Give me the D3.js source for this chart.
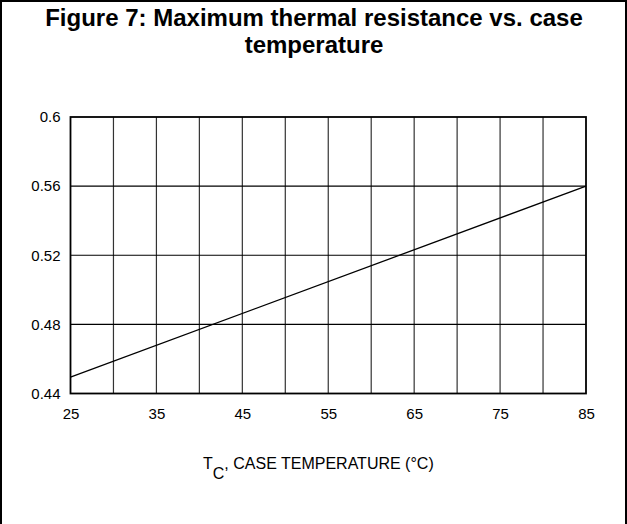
<!DOCTYPE html>
<html>
<head>
<meta charset="utf-8">
<script src="https://cdn.jsdelivr.net/npm/d3@7"></script>
<style>
  body { margin: 0; background: #fff; }
  text { font-family: "Liberation Sans", Arial, sans-serif; fill: #000; }
</style>
</head>
<body>
<script>
// data
const caseTemp = [25, 85];
const thermalRes = [0.4495, 0.56];
const xTicks = [25, 35, 45, 55, 65, 75, 85];
const xGrid = [30, 35, 40, 45, 50, 55, 60, 65, 70, 75, 80];
const yTicks = [0.44, 0.48, 0.52, 0.56, 0.6];
const titleLines = ['Figure 7: Maximum thermal resistance vs. case', 'temperature'];

const w = 627,
      h = 524,
      plotL = 70.5,
      plotR = 586,
      plotT = 117,
      plotB = 393.5;

const svg = d3.select('body')
            .append('svg')
            .attr('width', w)
            .attr('height', h);

// outer frame (bottom edge falls outside the picture)
svg.append('path')
    .attr('d', 'M1,' + h + 'V1H626V' + h)
    .attr('fill', 'none')
    .attr('stroke', '#000')
    .attr('stroke-width', 2);

svg.selectAll('.title')
    .data(titleLines)
    .enter()
    .append('text')
    .attr('class', 'title')
    .attr('x', 314)
    .attr('y', (d, i) => 26 + i * 27)
    .attr('text-anchor', 'middle')
    .style('font-size', '24px')
    .style('font-weight', 'bold')
    .text(d => d);

const x = d3.scaleLinear()
            .domain([25, 85])
            .range([plotL, plotR]);

const y = d3.scaleLinear()
            .domain([0.44, 0.6])
            .range([plotB, plotT]);

// grid
svg.selectAll('.vgrid')
    .data(xGrid)
    .enter()
    .append('line')
    .attr('x1', d => x(d))
    .attr('x2', d => x(d))
    .attr('y1', plotT)
    .attr('y2', plotB)
    .attr('stroke', '#333')
    .attr('stroke-width', 1.2);

svg.selectAll('.hgrid')
    .data(yTicks.slice(1, -1))
    .enter()
    .append('line')
    .attr('x1', plotL)
    .attr('x2', plotR)
    .attr('y1', d => y(d))
    .attr('y2', d => y(d))
    .attr('stroke', '#000')
    .attr('stroke-width', 1.2);

svg.append('rect')
    .attr('x', plotL)
    .attr('y', plotT)
    .attr('width', plotR - plotL)
    .attr('height', plotB - plotT)
    .attr('fill', 'none')
    .attr('stroke', '#000')
    .attr('stroke-width', 1.8);

// axes (labels only)
const xAxis = d3.axisBottom(x)
                .tickValues(xTicks)
                .tickSize(0)
                .tickPadding(15)
                .tickFormat(d3.format('d'));
const yAxis = d3.axisLeft(y)
                .tickValues(yTicks)
                .tickSize(0)
                .tickPadding(10)
                .tickFormat(d => d);

svg.append('g')
    .attr('transform', 'translate(0,' + plotB + ')')
    .call(xAxis)
    .call(g => g.select('.domain').remove())
    .selectAll('text')
    .style('font-size', '15px')
    .style('font-family', '"Liberation Sans", Arial, sans-serif')
    .attr('fill', '#000');

svg.append('g')
    .attr('transform', 'translate(' + plotL + ',0)')
    .call(yAxis)
    .call(g => g.select('.domain').remove())
    .selectAll('text')
    .style('font-size', '15px')
    .style('font-family', '"Liberation Sans", Arial, sans-serif')
    .attr('fill', '#000');

// the curve
const pts = caseTemp.map((t, i) => [t, thermalRes[i]]);
svg.append('path')
    .datum(pts)
    .attr('fill', 'none')
    .attr('stroke', '#000')
    .attr('stroke-width', 1.3)
    .attr('d', d3.line().x(d => x(d[0])).y(d => y(d[1])));

// x axis title with subscript
const xl = svg.append('text')
    .attr('x', 203)
    .attr('y', 469)
    .style('font-size', '16px');
xl.append('tspan').text('T');
xl.append('tspan').attr('dy', 10).text('C');
xl.append('tspan').attr('dy', -10).text(', CASE TEMPERATURE (°C)');
</script>
</body>
</html>
